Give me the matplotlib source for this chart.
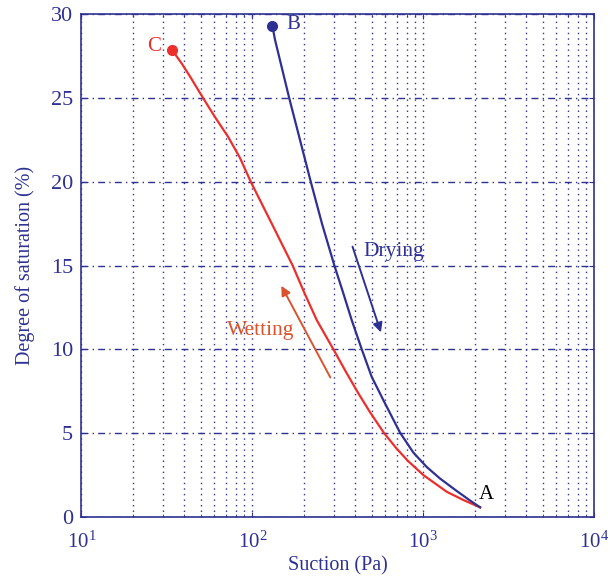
import matplotlib
matplotlib.use("Agg")
import matplotlib.pyplot as plt

# Data
wet_suction = [34.0, 38.6, 43.3, 51.6, 60.5, 72.1, 84.7, 98.0, 130.0, 172.2, 201.8, 238.2,
               297.9, 356.5, 416.9, 487.5, 588.8, 698.0, 814.0, 1000, 1371, 1714, 2148]
wet_sat = [27.87, 27.08, 26.28, 25.0, 23.87, 22.7, 21.43, 20.0, 17.5, 15.0, 13.36, 11.74,
           10.0, 8.57, 7.37, 6.25, 5.0, 4.07, 3.33, 2.49, 1.49, 1.0, 0.56]
dry_suction = [130.9, 135.8, 164.4, 190.1, 219.8, 255.9, 302.0, 340.4, 381.1, 436.5, 498.9,
               583.4, 731.1, 875.0, 1047, 1253, 1567, 1875, 2148]
dry_sat = [29.33, 28.48, 25.0, 22.5, 20.0, 17.48, 15.0, 13.35, 11.75, 10.0, 8.36,
           6.97, 5.02, 3.83, 2.97, 2.28, 1.54, 0.97, 0.56]

xticks = [10, 100, 1000, 10000]
yticks = [0, 5, 10, 15, 20, 25, 30]

BLUE = "#2e3192"
RED = "#ec2f2b"
ORANGE = "#d9542c"

plt.rcParams["font.family"] = ["Liberation Serif", "DejaVu Serif"]
plt.rcParams["mathtext.fontset"] = "stix"

fig = plt.figure(figsize=(6.1, 5.78), dpi=100)
ax = fig.add_axes([0.1333, 0.106, 0.841, 0.869])
ax.set_xscale("log")
ax.set_xlim(10, 10000)
ax.set_ylim(0, 30)
ax.set_xticks(xticks)
ax.set_yticks(yticks)

ax.grid(True, which="both", axis="x", linestyle=(0, (1, 3)), color=BLUE, lw=1.0)
ax.grid(True, which="major", axis="y", linestyle=(0, (5, 3, 1, 3)), color=BLUE, lw=1.0)
ax.set_axisbelow(True)

for s in ax.spines.values():
    s.set_color(BLUE)
    s.set_linewidth(1.2)
ax.tick_params(which="both", direction="in", colors=BLUE, labelcolor=BLUE,
               top=True, right=True)
ax.tick_params(axis="y", labelsize=16, pad=6)
ax.tick_params(axis="x", which="major", pad=11, labelsize=15)

ax.plot(wet_suction, wet_sat, color=RED, lw=1.6)
ax.plot(dry_suction, dry_sat, color=BLUE, lw=1.6)
ax.plot([wet_suction[0]], [wet_sat[0]], "o", color=RED, ms=7)
ax.plot([dry_suction[0]], [dry_sat[0]], "o", color=BLUE, ms=7)

ax.text(10**2.24, 29.4, "B", color=BLUE, fontsize=15, va="center", ha="center")
ax.text(10**1.425, 28.1, "C", color=RED, fontsize=15, va="center", ha="center")
ax.text(10**3.37, 1.35, "A", color="black", fontsize=15, va="center", ha="center")

ax.annotate("", xy=(10**2.757, 10.85), xytext=(10**2.581, 16.29),
            arrowprops=dict(arrowstyle="-|>", color=BLUE, lw=1.4, mutation_scale=14))
ax.annotate("", xy=(10**2.162, 13.94), xytext=(10**2.464, 8.17),
            arrowprops=dict(arrowstyle="-|>", color=ORANGE, lw=1.4, mutation_scale=14))
ax.text(10**2.83, 15.85, "Drying", color=BLUE, fontsize=15.5, ha="center", va="center")
ax.text(10**2.05, 11.1, "Wetting", color=ORANGE, fontsize=15.5, ha="center", va="center")

ax.set_xlabel("Suction (Pa)", color=BLUE, fontsize=14.5, labelpad=2)
ax.set_ylabel("Degree of saturation (%)", color=BLUE, fontsize=14.5, labelpad=11)

fig.savefig("out.png", dpi=100)
